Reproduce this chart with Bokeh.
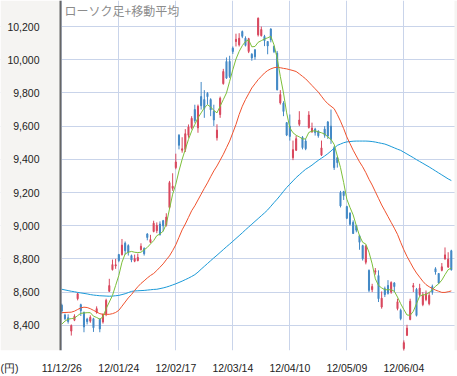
from bokeh.plotting import figure
from bokeh.models import Range1d, FixedTicker, Label, ColumnDataSource, NumeralTickFormatter, BoxAnnotation
from bokeh.embed import file_html
from bokeh.resources import INLINE

# ---- data (daily candles) ----
tick_idx = [0, 18, 36, 54, 72, 90, 108]
tick_labels = ["11/12/26", "12/01/24", "12/02/17", "12/03/14", "12/04/10", "12/05/09", "12/06/04"]
y_ticks = [8400, 8600, 8800, 9000, 9200, 9400, 9600, 9800, 10000, 10200]
unit_label = "(円)"
title_text = "ローソク足+移動平均"

open_ = [8521, 8462, 8445, 8365, 8430, 8560, 8524, 8478, 8437, 8425,
         8440, 8478, 8437, 8420, 8470, 8605, 8735, 8757, 8826, 8826,
         8895, 8880, 8820, 8786, 8790, 8856, 8862, 8950, 8900, 8965,
         8970, 9010, 9030, 9006, 9110, 9225, 9350, 9545, 9455, 9460,
         9545, 9590, 9700, 9590, 9778, 9760, 9798, 9760, 9690, 9530,
         9670, 9856, 9990, 9990, 10070, 10110, 10090, 10170, 10130, 10050,
         10033, 10060, 10150, 10145, 10141, 10110, 10185, 10080, 10040, 9740,
         9739, 9621, 9600, 9410, 9455, 9611, 9533, 9510, 9592, 9565,
         9582, 9570, 9425, 9582, 9625, 9600, 9470, 9410, 9200, 9205,
         9115, 9075, 9020, 9000, 8940, 8880, 8780, 8730, 8615, 8720,
         8700, 8510, 8620, 8640, 8600, 8655, 8500, 8490, 8260, 8340,
         8435, 8630, 8617, 8584, 8525, 8555, 8530, 8633, 8741, 8712,
         8731, 8800, 8751, 8849]
high = [8530, 8470, 8466, 8405, 8466, 8596, 8530, 8482, 8445, 8460,
        8445, 8514, 8440, 8470, 8560, 8680, 8796, 8800, 8830, 8920,
        8905, 8888, 8826, 8826, 8832, 8894, 8870, 8955, 8945, 9030,
        9020, 9026, 9035, 9075, 9270, 9316, 9434, 9552, 9533, 9582,
        9610, 9660, 9729, 9730, 9866, 9817, 9805, 9768, 9729, 9611,
        9778, 9945, 10014, 10024, 10080, 10157, 10160, 10176, 10141, 10132,
        10040, 10063, 10255, 10200, 10150, 10112, 10190, 10085, 10053, 9817,
        9750, 9625, 9670, 9513, 9543, 9690, 9540, 9523, 9690, 9621,
        9590, 9575, 9513, 9600, 9631, 9700, 9480, 9415, 9210, 9210,
        9120, 9081, 9032, 9005, 8945, 8885, 8885, 8737, 8650, 8745,
        8731, 8604, 8633, 8672, 8665, 8660, 8560, 8500, 8309, 8403,
        8560, 8655, 8625, 8650, 8600, 8610, 8600, 8645, 8750, 8715,
        8775, 8869, 8840, 8855]
low = [8470, 8431, 8410, 8338, 8425, 8550, 8456, 8358, 8405, 8415,
       8360, 8470, 8358, 8410, 8455, 8600, 8730, 8740, 8780, 8820,
       8826, 8820, 8780, 8780, 8785, 8850, 8820, 8912, 8895, 8960,
       8955, 8940, 8965, 8995, 9100, 9210, 9340, 9460, 9440, 9444,
       9530, 9580, 9620, 9560, 9700, 9650, 9729, 9660, 9601, 9513,
       9650, 9850, 9886, 9890, 10035, 10080, 10080, 10130, 10080, 10040,
       9994, 10000, 10140, 10140, 10082, 10033, 10105, 10040, 9815, 9730,
       9660, 9540, 9513, 9395, 9450, 9600, 9460, 9455, 9585, 9560,
       9543, 9530, 9420, 9530, 9523, 9493, 9336, 9350, 9110, 9155,
       9040, 9000, 8950, 8960, 8855, 8790, 8767, 8600, 8600, 8705,
       8540, 8500, 8570, 8585, 8590, 8600, 8490, 8430, 8238, 8335,
       8430, 8600, 8453, 8575, 8515, 8545, 8520, 8584, 8705, 8650,
       8725, 8795, 8745, 8730]
close = [8486, 8440, 8423, 8398, 8455, 8590, 8488, 8390, 8422, 8448,
         8385, 8500, 8378, 8466, 8550, 8639, 8766, 8765, 8790, 8883,
         8849, 8841, 8793, 8802, 8809, 8876, 8831, 8929, 8917, 9015,
         9002, 8947, 8999, 9052, 9260, 9238, 9384, 9485, 9463, 9554,
         9595, 9647, 9633, 9720, 9723, 9707, 9777, 9698, 9637, 9576,
         9768, 9929, 9889, 9899, 10050, 10123, 10129, 10141, 10086, 10127,
         10011, 10018, 10250, 10182, 10114, 10083, 10120, 10050, 9819, 9790,
         9688, 9546, 9538, 9458, 9524, 9637, 9470, 9464, 9667, 9588,
         9561, 9542, 9469, 9545, 9540, 9520, 9350, 9380, 9119, 9181,
         9045, 9009, 8953, 8973, 8900, 8801, 8876, 8611, 8633, 8729,
         8560, 8563, 8585, 8593, 8657, 8633, 8542, 8440, 8295, 8383,
         8545, 8639, 8459, 8624, 8580, 8590, 8580, 8600, 8721, 8655,
         8752, 8824, 8798, 8734]

ma5 = [8407, 8425, 8437, 8440, 8443, 8458, 8472, 8474, 8476, 8476,
       8455, 8447, 8437, 8450, 8500, 8540, 8580, 8640, 8700, 8780,
       8830, 8840, 8845, 8840, 8838, 8840, 8855, 8869, 8890, 8910,
       8940, 8950, 8967, 9010, 9100, 9190, 9250, 9330, 9400, 9460,
       9520, 9570, 9610, 9650, 9680, 9710, 9729, 9715, 9695, 9680,
       9720, 9760, 9800, 9870, 9940, 10004, 10050, 10085, 10110, 10120,
       10078, 10080, 10105, 10115, 10125, 10132, 10141, 10090, 10010, 9900,
       9800, 9680, 9590, 9560, 9545, 9535, 9523, 9523, 9562, 9570,
       9572, 9565, 9560, 9552, 9535, 9520, 9490, 9420, 9350, 9260,
       9160, 9110, 9065, 9000, 8940, 8900, 8889, 8840, 8770, 8680,
       8640, 8625, 8614, 8614, 8614, 8605, 8570, 8530, 8495, 8462,
       8460, 8484, 8530, 8575, 8584, 8584, 8598, 8614, 8635, 8650,
       8672, 8705, 8735, 8745]
ma25 = [8476, 8477, 8478, 8479, 8485, 8495, 8505, 8509, 8507, 8500,
        8490, 8480, 8470, 8466, 8466, 8466, 8470, 8477, 8490, 8515,
        8540, 8565, 8585, 8610, 8632, 8652, 8668, 8685, 8700, 8712,
        8730, 8750, 8770, 8795, 8818, 8850, 8885, 8930, 8975, 9010,
        9050, 9090, 9120, 9155, 9190, 9225, 9258, 9295, 9330, 9360,
        9395, 9430, 9470, 9510, 9560, 9610, 9670, 9720, 9760, 9795,
        9830, 9855, 9880, 9900, 9920, 9935, 9945, 9952, 9955, 9952,
        9948, 9945, 9940, 9935, 9929, 9915, 9900, 9885, 9865, 9845,
        9825, 9805, 9780, 9755, 9735, 9720, 9705, 9670, 9630, 9585,
        9535, 9495, 9455, 9420, 9385, 9355, 9320, 9280, 9245, 9205,
        9165, 9125, 9090, 9055, 9020, 8985, 8948, 8900, 8855, 8815,
        8780, 8745, 8715, 8690, 8665, 8645, 8632, 8622, 8612, 8605,
        8598, 8598, 8602, 8607]
ma75 = [8617, 8613, 8609, 8605, 8602, 8598, 8595, 8592, 8589, 8585,
        8582, 8580, 8578, 8577, 8576, 8575, 8576, 8578, 8580, 8585,
        8590, 8597, 8604, 8607, 8608, 8609, 8610, 8612, 8614, 8616,
        8617, 8621, 8625, 8630, 8636, 8643, 8650, 8658, 8666, 8675,
        8684, 8694, 8705, 8720, 8738, 8755, 8772, 8789, 8806, 8822,
        8839, 8856, 8873, 8889, 8906, 8923, 8940, 8957, 8975, 8992,
        9009, 9026, 9043, 9060, 9077, 9095, 9117, 9139, 9160, 9183,
        9207, 9230, 9250, 9270, 9290, 9307, 9324, 9340, 9352, 9365,
        9380, 9394, 9407, 9420, 9434, 9450, 9467, 9484, 9492, 9500,
        9505, 9507, 9509, 9510, 9510, 9510, 9510, 9509, 9507, 9504,
        9500, 9496, 9492, 9485, 9477, 9469, 9461, 9454, 9443, 9432,
        9421, 9410, 9398, 9387, 9376, 9365, 9354, 9342, 9330, 9318,
        9306, 9294, 9282, 9272]

# ---- styles / layout ----
UP = "#d9485e"
DOWN = "#4389c6"
C_MA5 = "#7cbf3a"
C_MA25 = "#f0522e"
C_MA75 = "#1b9ad8"
GRID = "#c9d4ea"
PANEL = "#f5f4f2"
FONT = "Liberation Sans"

X0, X1 = -19.357, 124.947      # full canvas width in bar units
PLOT_LEFT, PLOT_RIGHT = -0.41, 124.0   # white plotting area
Y0, Y1 = 8248, 10357
YEN_POS = -16.67

n = len(close)
xs = list(range(n))
cols = [UP if c >= o else DOWN for o, c in zip(open_, close)]
src = ColumnDataSource(dict(
    x=xs, o=open_, h=high, l=low, c=close, col=cols,
    top=[max(o, c) for o, c in zip(open_, close)],
    bot=[min(o, c) for o, c in zip(open_, close)],
))

p = figure(width=457, height=376, output_backend="svg", toolbar_location=None,
           x_range=Range1d(X0, X1), y_range=Range1d(Y0, Y1),
           min_border_left=0, min_border_right=0, min_border_top=0, min_border_bottom=18,
           background_fill_color="white", border_fill_color="white",
           outline_line_color=None)

# grid
p.xgrid.ticker = FixedTicker(ticks=tick_idx)
p.ygrid.ticker = FixedTicker(ticks=y_ticks)
p.grid.grid_line_color = GRID
p.grid.grid_line_width = 1

# grey side panels (cover the grid outside the plotting area)
p.add_layout(BoxAnnotation(right=PLOT_LEFT, fill_color=PANEL, fill_alpha=1,
                           line_color=None, level="underlay"))
p.add_layout(BoxAnnotation(left=PLOT_RIGHT, fill_color=PANEL, fill_alpha=1,
                           line_color=None, level="underlay"))

# y axis, drawn at the left edge of the white area
p.yaxis.fixed_location = PLOT_LEFT
p.yaxis.ticker = FixedTicker(ticks=y_ticks)
p.yaxis.formatter = NumeralTickFormatter(format="0,0")
p.yaxis.axis_line_color = "#666666"
p.yaxis.axis_line_width = 2
p.yaxis.major_tick_line_color = None
p.yaxis.minor_tick_line_color = None
p.yaxis.major_label_standoff = 15
p.yaxis.major_label_text_font = FONT
p.yaxis.major_label_text_font_size = "10.5px"
p.yaxis.major_label_text_color = "#222222"

# x axis (dates + unit label at far left)
p.xaxis.ticker = FixedTicker(ticks=[YEN_POS] + tick_idx)
overrides = {i: t for i, t in zip(tick_idx, tick_labels)}
overrides[YEN_POS] = unit_label
p.xaxis.major_label_overrides = overrides
p.xaxis.axis_line_color = None
p.xaxis.major_tick_line_color = None
p.xaxis.minor_tick_line_color = None
p.xaxis.major_label_standoff = 5
p.xaxis.major_label_text_font = FONT
p.xaxis.major_label_text_font_size = "10.5px"
p.xaxis.major_label_text_color = "#222222"

# candles
p.segment(x0="x", y0="l", x1="x", y1="h", source=src, line_color="col", line_width=1)
p.vbar(x="x", width=0.33, top="top", bottom="bot", source=src,
       fill_color="col", line_color="col", line_width=1)

# moving averages
p.line(xs, ma75, line_color=C_MA75, line_width=1)
p.line(xs, ma25, line_color=C_MA25, line_width=1)
p.line(xs, ma5, line_color=C_MA5, line_width=1)

# title inside the plotting area
p.add_layout(Label(x=0.85, y=Y1 - 2 * 5.891, text=title_text,
                   text_baseline="top", text_align="left",
                   text_font="Noto Sans CJK JP", text_font_size="12px",
                   text_color="#8c8c8c"))

open("out.html", "w").write(file_html(p, INLINE))
